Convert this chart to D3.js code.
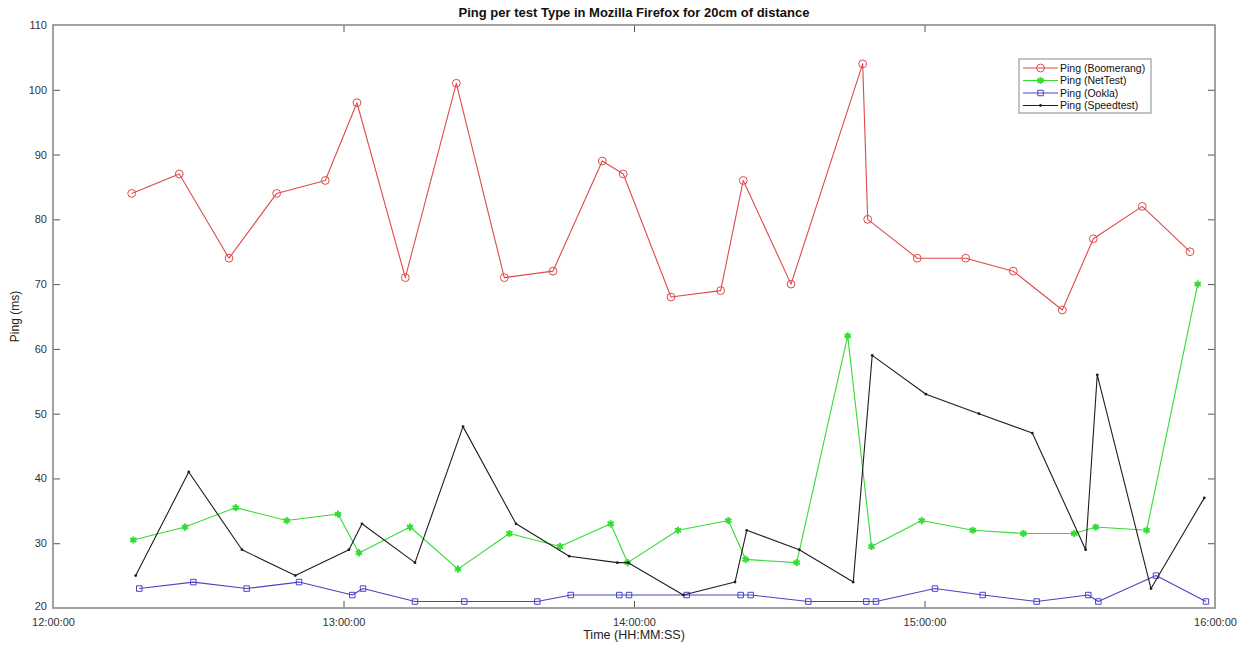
<!DOCTYPE html>
<html>
<head>
<meta charset="utf-8">
<script src="https://cdn.jsdelivr.net/npm/d3@7"></script>
<style>
  html, body { margin: 0; padding: 0; background: #fff; }
  svg { display: block; font-family: "Liberation Sans", Arial, Helvetica, sans-serif; }
</style>
</head>
<body>
<svg id="chart" width="1247" height="646"></svg>
<script>
// Ping measurements per test type (times of day and ping in ms)
const timesBoomerang = ["12:16:15","12:26:05","12:36:21","12:46:12","12:56:14","13:02:47","13:12:46","13:23:18","13:33:13","13:43:16","13:53:27","13:57:47","14:07:38","14:17:54","14:22:34","14:32:26","14:47:14","14:48:16","14:58:30","15:08:30","15:18:20","15:28:28","15:34:52","15:44:59","15:54:50"];
const pingBoomerang  = [84, 87, 74, 84, 86, 98, 71, 101, 71, 72, 89, 87, 68, 69, 86, 70, 104, 80, 74, 74, 72, 66, 77, 82, 75];

const timesNetTest = ["12:16:35","12:27:16","12:37:44","12:48:16","12:58:52","13:03:12","13:13:44","13:23:39","13:34:15","13:44:43","13:55:11","13:58:42","14:09:05","14:19:29","14:23:04","14:33:36","14:44:08","14:49:03","14:59:25","15:09:57","15:20:25","15:30:56","15:35:22","15:45:53","15:56:26"];
const pingNetTest  = [30.5, 32.5, 35.5, 33.5, 34.5, 28.5, 32.5, 26, 31.5, 29.5, 33, 27, 32, 33.5, 27.5, 27, 62, 29.5, 33.5, 32, 31.5, 31.5, 32.5, 32, 70];

const timesOokla = ["12:17:49","12:28:59","12:40:00","12:50:49","13:01:49","13:04:02","13:14:46","13:24:57","13:40:02","13:46:56","13:56:58","13:58:58","14:10:53","14:22:02","14:24:06","14:36:00","14:47:59","14:49:59","15:02:10","15:12:01","15:23:10","15:33:50","15:35:54","15:47:49","15:58:08"];
const pingOokla  = [23, 24, 23, 24, 22, 23, 21, 21, 21, 22, 22, 22, 22, 22, 22, 21, 21, 21, 23, 22, 21, 22, 21, 25, 21];

const timesSpeedtest = ["12:17:05","12:28:02","12:39:02","12:50:03","13:01:08","13:03:49","13:14:46","13:24:41","13:35:38","13:46:38","13:56:33","13:58:49","14:10:11","14:20:52","14:23:17","14:34:08","14:45:17","14:49:12","15:00:18","15:11:15","15:22:16","15:33:17","15:35:41","15:46:47","15:57:47"];
const pingSpeedtest  = [25, 41, 29, 25, 29, 33, 27, 48, 33, 28, 27, 27, 22, 24, 32, 29, 24, 59, 53, 50, 47, 29, 56, 23, 37];

const seriesNames = ["Ping (Boomerang)", "Ping (NetTest)", "Ping (Ookla)", "Ping (Speedtest)"];
const xTickLabels = ["12:00:00", "13:00:00", "14:00:00", "15:00:00", "16:00:00"];
const yTicks = [20, 30, 40, 50, 60, 70, 80, 90, 100, 110];

const titleText = "Ping per test Type in Mozilla Firefox for 20cm of distance";
const xLabelText = "Time (HH:MM:SS)";
const yLabelText = "Ping (ms)";

const parseTime = d3.timeParse("%H:%M:%S");
const fmtTime = d3.timeFormat("%H:%M:%S");

const svg = d3.select("#chart");
const margin = { left: 53, right: 1247 - 1215, top: 25, bottom: 646 - 608 };
const W = 1247, H = 646;
const x0 = margin.left, x1 = W - margin.right, y0 = margin.top, y1 = H - margin.bottom;

const x = d3.scaleTime()
  .domain([parseTime(xTickLabels[0]), parseTime(xTickLabels[xTickLabels.length - 1])])
  .range([x0, x1]);
const y = d3.scaleLinear().domain([20, 110]).range([y1, y0]);

const series = [
  { name: seriesNames[0], times: timesBoomerang, values: pingBoomerang, color: "#de4a4a", marker: "circle" },
  { name: seriesNames[1], times: timesNetTest,   values: pingNetTest,   color: "#33dc33", marker: "star" },
  { name: seriesNames[2], times: timesOokla,     values: pingOokla,     color: "#4a44c4", marker: "square" },
  { name: seriesNames[3], times: timesSpeedtest, values: pingSpeedtest, color: "#1e1e1e", marker: "dot" }
];

const axisColor = "#8a8a8a";
const tickLen = 7;
const xTickDates = xTickLabels.map(parseTime);

// Axes: bottom/left carry labels, top/right only inward ticks (box style)
const gx = svg.append("g").attr("transform", `translate(0,${y1})`)
  .call(d3.axisBottom(x).tickValues(xTickDates).tickFormat(fmtTime).tickSizeInner(-tickLen).tickSizeOuter(0).tickPadding(10));
const gxTop = svg.append("g").attr("transform", `translate(0,${y0})`)
  .call(d3.axisTop(x).tickValues(xTickDates).tickFormat("").tickSizeInner(-tickLen).tickSizeOuter(0));
const gy = svg.append("g").attr("transform", `translate(${x0},0)`)
  .call(d3.axisLeft(y).tickValues(yTicks).tickFormat(d3.format("d")).tickSizeInner(-tickLen).tickSizeOuter(0).tickPadding(6));
const gyRight = svg.append("g").attr("transform", `translate(${x1},0)`)
  .call(d3.axisRight(y).tickValues(yTicks).tickFormat("").tickSizeInner(-tickLen).tickSizeOuter(0));

[gx, gxTop, gy, gyRight].forEach(g => {
  g.select(".domain").remove();
  g.selectAll(".tick line").attr("stroke", "#555").attr("stroke-width", 1);
  g.selectAll(".tick text").attr("fill", "#333").style("font-size", "11px");
});
// the end ticks coincide with the frame
gx.selectAll(".tick line").filter((d, i) => i === 0 || i === xTickDates.length - 1).remove();
gxTop.selectAll(".tick line").filter((d, i) => i === 0 || i === xTickDates.length - 1).remove();
gy.selectAll(".tick line").filter(d => d === 20 || d === 110).remove();
gyRight.selectAll(".tick line").filter(d => d === 20 || d === 110).remove();
gy.selectAll(".tick").filter(d => d === 20).select("text").attr("dy", "0.1em");

// frame
svg.append("rect").attr("x", x0).attr("y", y0).attr("width", x1 - x0).attr("height", y1 - y0)
  .attr("fill", "none").attr("stroke", axisColor).attr("stroke-width", 1.6);

const plot = svg.append("g");

function markerPath(kind) {
  if (kind === "circle") return d3.symbol(d3.symbolCircle, 48)();
  if (kind === "square") return d3.symbol(d3.symbolSquare, 30)();
  if (kind === "star") return d3.symbol(d3.symbolAsterisk, 36)();
  return d3.symbol(d3.symbolCircle, 6)();
}

function styleMarker(sel, s) {
  if (s.marker === "circle" || s.marker === "square") {
    sel.attr("fill", "none").attr("stroke", s.color).attr("stroke-width", 1);
  } else if (s.marker === "star") {
    sel.attr("fill", s.color).attr("stroke", s.color).attr("stroke-width", 2);
  } else {
    sel.attr("fill", s.color).attr("stroke", "none");
  }
}

const line = d3.line().x(d => x(d.t)).y(d => y(d.v));

series.forEach(s => {
  const pts = s.times.map((t, i) => ({ t: parseTime(t), v: s.values[i] }));
  plot.append("path").datum(pts)
    .attr("d", line).attr("fill", "none")
    .attr("stroke", s.color).attr("stroke-width", 1.1).attr("stroke-linejoin", "round");
  plot.selectAll(null).data(pts).enter().append("path")
    .attr("d", markerPath(s.marker))
    .attr("transform", d => `translate(${x(d.t)},${y(d.v)})`)
    .call(styleMarker, s);
});

// title and axis labels
svg.append("text").attr("x", (x0 + x1) / 2).attr("y", 17).attr("text-anchor", "middle")
  .style("font-size", "13px").style("font-weight", "bold").attr("fill", "#111").text(titleText);
svg.append("text").attr("x", (x0 + x1) / 2).attr("y", 639).attr("text-anchor", "middle")
  .style("font-size", "12.5px").attr("fill", "#222").text(xLabelText);
svg.append("text").attr("transform", `translate(19,${(y0 + y1) / 2}) rotate(-90)`).attr("text-anchor", "middle")
  .style("font-size", "12px").attr("fill", "#222").text(yLabelText);

// legend
const lg = svg.append("g").attr("transform", "translate(1019,59)");
lg.append("rect").attr("width", 132).attr("height", 54).attr("fill", "#fff")
  .attr("stroke", "#888").attr("stroke-width", 1);
series.forEach((s, i) => {
  const ry = 9 + i * 12.5;
  lg.append("line").attr("x1", 4).attr("x2", 39).attr("y1", ry).attr("y2", ry)
    .attr("stroke", s.color).attr("stroke-width", 1.1);
  lg.append("path").attr("d", markerPath(s.marker)).attr("transform", `translate(21.5,${ry})`)
    .call(styleMarker, s);
  lg.append("text").attr("x", 41).attr("y", ry).attr("dy", "0.35em")
    .style("font-size", "10.5px").attr("fill", "#111").text(s.name);
});
</script>
</body>
</html>
